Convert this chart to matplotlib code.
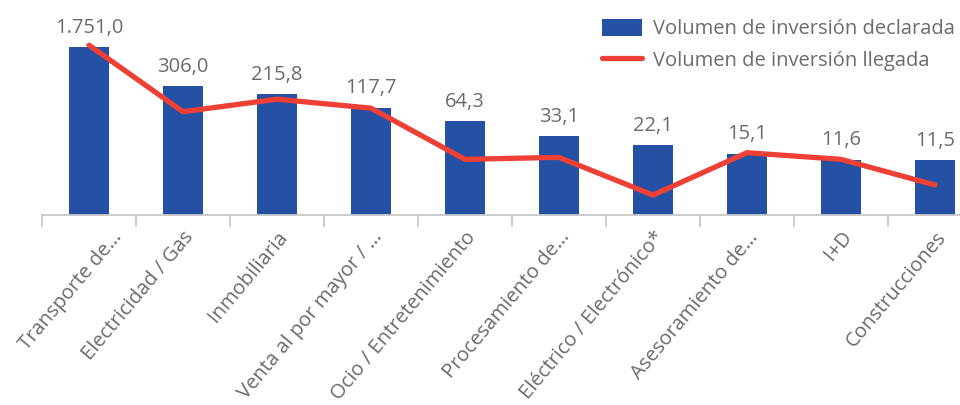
import matplotlib
matplotlib.use("Agg")
import matplotlib.pyplot as plt
import matplotlib.transforms as mtransforms
import numpy as np

categories = ["Transporte de…", "Electricidad / Gas", "Inmobiliaria",
              "Venta al por mayor / …", "Ocio / Entretenimiento",
              "Procesamiento de…", "Eléctrico / Electrónico*",
              "Asesoramiento de…", "I+D", "Construcciones"]
declarada = [1751.0, 306.0, 215.8, 117.7, 64.3, 33.1, 22.1, 15.1, 11.6, 11.5]
llegada = [1914, 99, 173, 116, 11.9, 13.0, 2.43, 16.0, 11.9, 3.8]

BAR = "#2451A4"
LINE = "#EE4035"
GREY = "#6B6B6B"
AX = "#C8C8C8"

plt.rcParams['font.family'] = ['Open Sans', 'DejaVu Sans']

fig = plt.figure(figsize=(9.6, 4.05), dpi=100)
W, H = 960, 405
ax = fig.add_axes([42 / W, (H - 215) / H, 940 / W, 207 / H])

x = np.arange(len(categories))
bars = ax.bar(x, declarada, width=0.415, color=BAR, zorder=2,
              label="Volumen de inversión declarada")
line, = ax.plot(x, llegada, color=LINE, lw=3.8, solid_capstyle='round',
                solid_joinstyle='miter', zorder=3,
                label="Volumen de inversión llegada")

ax.set_yscale('log')
ax.set_ylim(1, 10000)
ax.set_xlim(-0.5, len(categories) - 0.5)

def fmt(v):
    s = f"{v:,.1f}"
    return s.replace(",", "X").replace(".", ",").replace("X", ".")

for xi, v in zip(x, declarada):
    ax.annotate(fmt(v), (xi, v), xytext=(0, 10.5), textcoords='offset points',
                ha='center', va='baseline', fontsize=14.5, color=GREY, zorder=4)

for s in ['top', 'right', 'left']:
    ax.spines[s].set_visible(False)
ax.spines['bottom'].set_color(AX)
ax.spines['bottom'].set_linewidth(1.3)
ax.yaxis.set_visible(False)

ax.set_xticks(x)
ax.set_xticklabels(categories, rotation=50, ha='right', rotation_mode='anchor',
                   fontsize=14.5, color=GREY)
ax.set_xticks(np.arange(-0.5, len(categories) + 0.5, 1), minor=True)
ax.tick_params(axis='x', which='major', length=0, pad=9)
ax.tick_params(axis='x', which='minor', length=8.5, width=1.3, color=AX)

# shift first label to the right (as in reference)
lbl0 = ax.get_xticklabels()[0]
lbl0.set_transform(lbl0.get_transform() +
                   mtransforms.ScaledTranslation(22 / 100, 0, fig.dpi_scale_trans))

leg = fig.legend(handles=[bars, line], loc='upper left',
                 bbox_to_anchor=(602 / W, 1 - 19 / H), frameon=False,
                 fontsize=14.5, labelcolor=GREY, handlelength=2.0,
                 handleheight=0.9, handletextpad=0.55, labelspacing=0.55,
                 borderaxespad=0, borderpad=0)

fig.savefig("out.png", dpi=100)
